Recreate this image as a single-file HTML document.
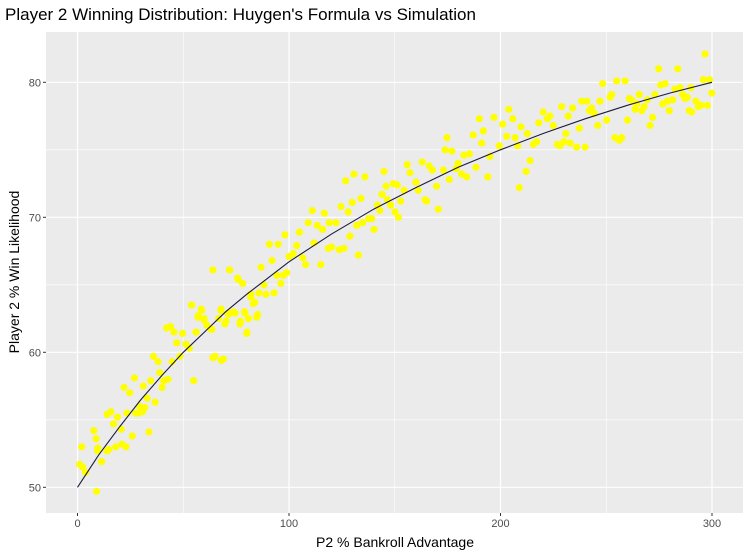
<!DOCTYPE html>
<html><head><meta charset="utf-8"><style>
body{margin:0;background:#fff;}
svg{display:block;font-family:"Liberation Sans",sans-serif;}
</style></head><body>
<svg id="chart" width="751" height="557">
<text x="5" y="20" font-size="17" fill="#000">Player 2 Winning Distribution: Huygen's Formula vs Simulation</text>
<rect x="46" y="32" width="697" height="481" fill="#ebebeb"/>
<g id="grid"></g>
<g id="pts"></g>
<g id="line"></g>
<g id="axes"></g>
<text x="395" y="547" font-size="14" text-anchor="middle" fill="#000">P2 % Bankroll Advantage</text>
<text transform="translate(19,272) rotate(-90)" font-size="14" text-anchor="middle" fill="#000">Player 2 % Win Likelihood</text>
</svg>
<script>
const xTicks=[0,100,200,300];
const yTicks=[50,60,70,80];
const xMinor=[50,150,250];
const yMinor=[55,65,75];
const curveX=[0,10,20,30,40,50,60,70,80,90,100,120,140,160,180,200,220,240,260,280,300];
const curveY=[50,52.4,54.5,56.5,58.3,60,61.5,63,64.3,65.5,66.7,68.75,70.6,72.2,73.7,75,76.2,77.3,78.3,79.2,80];
const simX=[2,1,2.4,3.8,9,7.7,8.8,9.6,9.5,11.4,14,14.8,14,15.8,17,18.9,18.1,20.7,21,22.9,22,24.7,23.4,25.9,26.9,27.5,29.4,28.7,30.7,31.8,32.9,31.1,33.8,34.6,35.9,38.1,36.7,38.9,40,40.8,42.8,44.7,42.1,44,45.6,46.9,48.4,49.7,51.3,52.9,54.9,53.9,56.1,57,58.5,59.9,61.2,63.1,65.1,67.9,69,66.7,70.2,72,73.8,75.7,77,79,80.2,82,83.8,85.2,64,72,64,68,
54,56,57,58.7,59.8,63.5,67.8,69.7,71.8,71.3,74.5,76.8,76,78.1,80,79.2,81.9,80.8,83.1,84.7,85.8,86.8,88.2,89.1,90.7,92,92.9,94.9,94.2,96.1,97.3,98.1,98.9,100,102,103.6,104.9,106.5,107.9,109.1,111,111.8,113.4,115,115.9,116.7,118.6,120.2,119,122.2,124.6,123.8,126,126.8,128,128.8,129.9,130.7,132,132.8,134.8,134,135.9,137.7,139.1,140.2,141.9,143,144,144.9,145.9,146.5,148.1,149.3,150.1,151.7,151.2,152.8,154.4,155.9,157.2,160,161.1,163,164.3,165.1,166.3,167.8,169.8,170.6,173,174.7,173.8,177,175.8,179,
180,182.7,185.3,187.1,188.4,181.6,184,190,191.1,191.9,194,195,196.9,199.4,201,202.9,203.9,205.8,206.9,208.1,208.9,209.7,212.1,212.7,214,215.5,217.1,218.1,220.2,222.1,223.4,225,226.9,228.1,228.9,230,230.9,232,232.9,234.1,236,237.3,238.4,240,240.8,242,243.1,244.2,246,247,248.3,250.2,251.8,252.6,254.1,254.9,256.2,257.3,258.9,260,260.9,262,263.6,264.4,265.6,266.8,267.9,269.4,270.7,271.9,273,274.8,275.7,276.7,277.8,278.9,279.8,281.4,282.5,283.8,284.9,286.1,287.2,288.3,289.2,290.4,292.4,293.5,294.8,296.7,295.9,297.8,298.8,299.9,290];
const simY=[53,51.7,51.5,51.1,49.7,54.2,53.6,52.9,52.7,51.9,52.7,52.8,55.4,55.6,54.7,55.2,53,54.3,53.2,53,57.4,57,55.5,53.8,58.1,55.5,56,55.5,55.6,55.9,56.6,57.5,54.1,57.9,59.7,59.3,56.3,58.5,57.4,57.9,58,59.3,61.8,61.9,61.5,60.7,59.7,61.4,60.6,60.3,57.9,63.5,61.5,62.7,63.2,62.5,62,61.7,59.7,63.2,59.5,62.5,62.3,62.9,63,65.5,62.3,63,61.5,64.3,63.7,62.8,66.1,66.1,59.6,59.4,
63.5,61.5,62.6,63.1,62.4,61.7,63.1,62.1,66.1,62.8,62.9,62.1,65.4,65.1,61.4,62.9,64.1,62.5,63.6,62.6,64.4,66.3,65,64.3,68,66.8,64.4,68,65.7,65.1,65.7,68.7,65.9,67.1,67.3,67.9,68.9,67,66.5,69.6,70.5,68.1,69.4,66.5,69.1,70.3,67.7,67.8,69.6,69.6,70.8,67.6,67.7,72.7,70.4,68.6,71.1,73.2,69.4,67.2,69.6,71.4,73,69.9,69.9,69.1,70.9,70.5,71.7,73.4,72.3,71.3,70.9,72.5,70.4,70,72.4,71.2,72,73.9,73.3,72.6,72,74.1,71.3,71.2,73.8,73.5,72.3,70.6,73.5,75.9,75,74.9,72.8,73.6,
74,74.6,74.7,76.1,73.7,73.2,73,77.3,75.5,76.4,73,74.5,77.4,75.3,76.9,76,78,77.3,75.9,75.3,72.2,76.7,73.4,76.2,74.2,75.4,75.6,77,77.8,77.3,77.5,76.8,75.4,75.3,78.2,75.6,76.2,77.5,75.5,78.1,75.2,76.6,78.6,75.2,78.6,77.9,78.1,77.7,76.8,78.6,79.9,77.2,78.9,79.1,75.9,80.1,75.7,75.9,80.1,77.2,78.8,78.7,78,78.4,79.1,77.9,78.2,78.7,76.8,77.4,79.1,81,79.8,78.4,79.9,78.6,77.9,78.7,79.5,81,79.6,79.1,78.8,78.9,77.9,77.8,78.6,78.2,78.3,82.1,80.2,78.3,80.2,79.2,79.6];

const NS='http://www.w3.org/2000/svg';
const X0=46,X1=743,Y0=32,Y1=513;
const xs=v=>77.5+v*(712-77.5)/300;
const ys=v=>487.3-(v-50)*13.5;
function mk(tag,attrs,parent){const e=document.createElementNS(NS,tag);for(const k in attrs)e.setAttribute(k,attrs[k]);parent.appendChild(e);return e;}
const grid=document.getElementById('grid'),axes=document.getElementById('axes');
xMinor.forEach(v=>{const l=mk('line',{x1:xs(v),x2:xs(v),y1:Y0,y2:Y1,stroke:'#fff','stroke-width':0.6},grid);

});
yMinor.forEach(v=>{const l=mk('line',{x1:X0,x2:X1,y1:ys(v),y2:ys(v),stroke:'#fff','stroke-width':0.6},grid);

});
xTicks.forEach(v=>{const l=mk('line',{x1:xs(v),x2:xs(v),y1:Y0,y2:Y1,stroke:'#fff','stroke-width':1.2},grid);


const t=mk('line',{x1:xs(v),x2:xs(v),y1:Y1,y2:Y1+3,stroke:'#333','stroke-width':1},axes);


const tx=mk('text',{x:xs(v),y:Y1+14,'font-size':11,'text-anchor':'middle',fill:'#4d4d4d'},axes);tx.textContent=v;

});
yTicks.forEach(v=>{const l=mk('line',{x1:X0,x2:X1,y1:ys(v),y2:ys(v),stroke:'#fff','stroke-width':1.2},grid);


const t=mk('line',{x1:X0-3,x2:X0,y1:ys(v),y2:ys(v),stroke:'#333','stroke-width':1},axes);


const tx=mk('text',{x:X0-5,y:ys(v)+4,'font-size':11,'text-anchor':'end',fill:'#4d4d4d'},axes);tx.textContent=v;

});
const pts=document.getElementById('pts');
const n=Math.min(simX.length,simY.length);
for(let i=0;i<n;i++){const c=mk('circle',{cx:xs(simX[i]),cy:ys(simY[i]),r:3.6,fill:'#ffff00'},pts);

}
const p=mk('path',{d:curveX.map((v,i)=>(i?'L':'M')+xs(v).toFixed(1)+','+ys(curveY[i]).toFixed(1)).join(''),fill:'none',stroke:'#1c1c3c','stroke-width':1.1},document.getElementById('line'));


</script>
</body></html>
